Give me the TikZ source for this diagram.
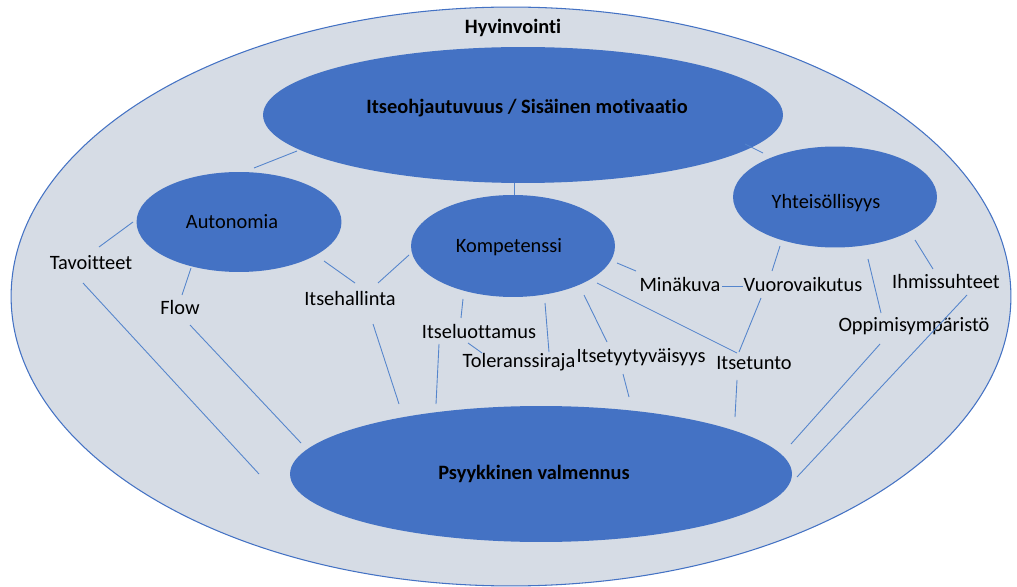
\documentclass[tikz,border=0pt]{standalone}
\usepackage{fontspec}
\setmainfont{Carlito}[Ligatures=NoCommon]
\usetikzlibrary{shapes.geometric,calc}
\definecolor{blueF}{HTML}{4472C4}
\definecolor{outerF}{HTML}{D6DCE5}
\definecolor{lineC}{HTML}{5585CC}
\tikzset{
  bubble/.style={ellipse, fill=blueF, draw=none, inner sep=0pt, outer sep=0pt},
  txt/.style={inner sep=0pt, font=\fontsize{11.6}{13}\selectfont, text=black},
  btxt/.style={inner sep=0pt, font=\fontsize{11.6}{13}\selectfont\bfseries, text=black},
  conn/.style={draw=lineC, line width=0.5pt},
}
\begin{document}
\begin{tikzpicture}[x=0.02cm,y=-0.02cm]
\useasboundingbox[fill=white] (0,0) rectangle (1017,587);
% outer
\node[ellipse, fill=outerF, draw=blueF, line width=0.6pt, inner sep=0pt,
      minimum width=20cm, minimum height=11.58cm] (outer) at (511,296.5) {};
\node[btxt] (hyv) at (513,28) {Hyvinvointi};
% main bubbles
\node[bubble, minimum width=10.4cm, minimum height=2.72cm] (top) at (523,115) {};
\node[btxt] (toptxt) at (527,108) {Itseohjautuvuus / Sisäinen motivaatio};
\node[bubble, minimum width=4.1cm, minimum height=2.0cm] (aut) at (239,222) {};
\node[txt] (auttxt) at (232,222) {Autonomia};
\node[bubble, minimum width=4.08cm, minimum height=2.04cm] (kom) at (513,246) {};
\node[txt] (komtxt) at (509,247) {Kompetenssi};
\node[bubble, minimum width=4.08cm, minimum height=2.02cm] (yht) at (835,197) {};
\node[txt] (yhttxt) at (826,203) {Yhteisöllisyys};
\node[bubble, minimum width=10.04cm, minimum height=2.72cm] (psy) at (541,474) {};
\node[btxt] (psytxt) at (534,474) {Psyykkinen valmennus};
% labels
\node[txt] (tav)  at (91,263)  {Tavoitteet};
\node[txt] (flow) at (180,307) {Flow};
\node[txt] (ihal) at (350,299) {Itsehallinta};
\node[txt] (ilu)  at (479,331) {Itseluottamus};
\node[txt] (tol)  at (519,362) {Toleranssiraja};
\node[txt] (ityy) at (641,357) {Itsetyytyväisyys};
\node[txt] (itu)  at (754,363) {Itsetunto};
\node[txt] (mina) at (680,284) {Minäkuva};
\node[txt] (vuo)  at (803,284) {Vuorovaikutus};
\node[txt] (ihm)  at (946,281) {Ihmissuhteet};
\node[txt] (opp)  at (914,326) {Oppimisympäristö};
% connectors
\draw[conn] ($(top)+(-226,36)$) -- ($(aut)+(15,-54)$);
\draw[conn] ($(top)+(222,29)$) -- ($(yht)+(-72,-44)$);
\draw[conn] ($(top)+(-9,68)$) -- ($(kom)+(1,-51)$);
\draw[conn] ($(aut)+(-106,0)$) -- ($(tav)+(8,-16)$);
\draw[conn] ($(tav)+(-8,20)$) -- ($(psy)+(-282,0)$);
\draw[conn] ($(aut)+(-48,46)$) -- ($(flow)+(2,-12)$);
\draw[conn] ($(flow)+(10,18)$) -- ($(psy)+(-240,-31)$);
\draw[conn] ($(aut)+(85,39)$) -- ($(ihal)+(5,-16)$);
\draw[conn] ($(ihal)+(28,-16)$) -- ($(kom)+(-104,9)$);
\draw[conn] ($(ihal)+(23,25)$) -- ($(psy)+(-142,-70)$);
\draw[conn] ($(kom)+(-50,53)$) -- ($(ilu)+(-18,-13)$);
\draw[conn] ($(ilu)+(-40,13)$) -- ($(psy)+(-105,-70)$);
\draw[conn] ($(ilu)+(-11,12)$) -- ($(tol)+(-37,-9)$);
\draw[conn] ($(kom)+(32,57)$) -- ($(tol)+(30,-10)$);
\draw[conn] ($(kom)+(71,49)$) -- ($(ityy)+(-34,-15)$);
\draw[conn] ($(ityy)+(-18,17)$) -- ($(psy)+(88,-77)$);
\draw[conn] ($(kom)+(104,17)$) -- ($(mina)+(-44,-13)$);
\draw[conn] ($(mina)+(42,2)$) -- ($(vuo)+(-60,2)$);
\draw[conn] ($(kom)+(84,37)$) -- ($(itu)+(-17,-10)$);
\draw[conn] ($(vuo)+(-42,14)$) -- ($(itu)+(-15,-11)$);
\draw[conn] ($(yht)+(-55,49)$) -- ($(vuo)+(-31,-13)$);
\draw[conn] ($(itu)+(-17,17)$) -- ($(psy)+(194,-57)$);
\draw[conn] ($(yht)+(33,62)$) -- ($(opp)+(-33,-13)$);
\draw[conn] ($(yht)+(80,43)$) -- ($(ihm)+(-13,-12)$);
\draw[conn] ($(opp)+(-34,18)$) -- ($(psy)+(250,-30)$);
\draw[conn] ($(ihm)+(21,14)$) -- ($(psy)+(256,3)$);
\end{tikzpicture}
\end{document}
